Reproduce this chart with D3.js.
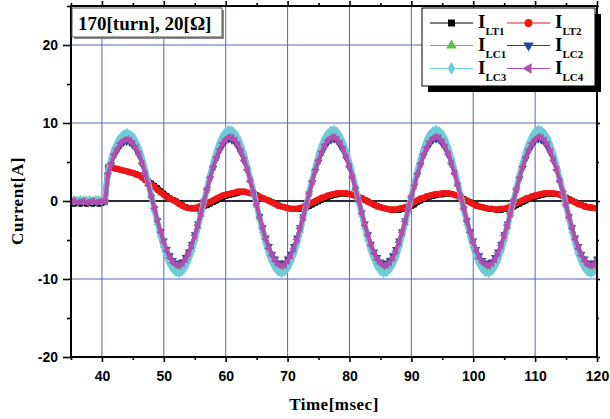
<!DOCTYPE html>
<html>
<head>
<meta charset="utf-8">
<script src="https://cdn.jsdelivr.net/npm/d3@7"></script>
<style>
  body { margin: 0; background: #ffffff; }
  svg { display: block; }
</style>
</head>
<body>
<div id="grafica_corriente"></div>
<script>
// sample times [msec]
var time = [35,35.5,36,36.5,37,37.5,38,38.5,39,39.5,40,40.5,
  41,41.5,42,42.5,43,43.5,44,44.5,45,45.5,46,46.5,47,47.5,48,48.5,49,49.5,50,50.5,
  51,51.5,52,52.5,53,53.5,54,54.5,55,55.5,56,56.5,57,57.5,58,58.5,59,59.5,60,60.5,
  61,61.5,62,62.5,63,63.5,64,64.5,65,65.5,66,66.5,67,67.5,68,68.5,69,69.5,70,70.5,
  71,71.5,72,72.5,73,73.5,74,74.5,75,75.5,76,76.5,77,77.5,78,78.5,79,79.5,80,80.5,
  81,81.5,82,82.5,83,83.5,84,84.5,85,85.5,86,86.5,87,87.5,88,88.5,89,89.5,90,90.5,
  91,91.5,92,92.5,93,93.5,94,94.5,95,95.5,96,96.5,97,97.5,98,98.5,99,99.5,100,100.5,
  101,101.5,102,102.5,103,103.5,104,104.5,105,105.5,106,106.5,107,107.5,108,108.5,109,109.5,110,110.5,
  111,111.5,112,112.5,113,113.5,114,114.5,115,115.5,116,116.5,117,117.5,118,118.5,119,119.5,120];

// currents [A]
var iLT1 = [-0.3,-0.4,-0.3,-0.4,-0.3,-0.4,-0.3,-0.4,-0.3,-0.4,-0.3,-0.2,
  4.2,4.3,4.2,4.1,4.0,3.9,3.8,3.7,3.6,3.5,
  3.3,3.1,2.9,2.6,2.3,2.0,1.7,1.3,1.0,0.7,
  0.4,0.2,0.0,-0.2,-0.5,-0.7,-0.9,-1.0,-1.0,-1.0,
  -0.9,-0.7,-0.6,-0.4,-0.2,0.0,0.2,0.4,0.6,0.7,
  0.8,0.9,1.0,1.1,1.1,1.1,1.0,0.9,0.8,0.6,
  0.4,0.2,0.1,-0.1,-0.3,-0.5,-0.7,-0.8,-0.9,-1.0,
  -1.1,-1.1,-1.1,-1.0,-0.9,-0.7,-0.5,-0.3,-0.1,0.1,
  0.3,0.4,0.6,0.7,0.8,0.9,0.9,0.9,0.9,0.8,
  0.7,0.5,0.4,0.2,0.0,-0.2,-0.4,-0.6,-0.8,-0.9,
  -1.0,-1.1,-1.2,-1.2,-1.2,-1.1,-1.0,-0.9,-0.7,-0.5,
  -0.2,0.0,0.2,0.3,0.5,0.6,0.7,0.8,0.8,0.9,
  0.9,0.9,0.8,0.7,0.5,0.3,0.1,-0.1,-0.3,-0.5,
  -0.7,-0.8,-0.9,-1.0,-1.1,-1.1,-1.2,-1.2,-1.1,-1.1,
  -1.0,-0.8,-0.6,-0.4,-0.2,0.0,0.2,0.3,0.5,0.6,
  0.7,0.8,0.9,0.9,0.9,0.9,0.8,0.7,0.5,0.3,
  0.1,-0.1,-0.3,-0.5,-0.6,-0.8,-0.9,-0.9,-1.0];

var iLT2 = [0.0,0.1,0.0,0.0,0.1,0.0,0.0,0.1,0.0,0.0,0.1,0.0,
  4.4,4.3,4.2,4.1,4.0,3.9,3.8,3.7,3.6,3.4,
  3.3,3.0,2.7,2.4,2.1,1.8,1.4,1.1,0.8,0.5,
  0.3,0.1,-0.1,-0.4,-0.6,-0.8,-0.9,-0.9,-0.9,-0.8,
  -0.6,-0.5,-0.3,-0.1,0.1,0.3,0.5,0.7,0.8,0.9,
  1.0,1.1,1.2,1.2,1.2,1.1,1.0,0.9,0.7,0.5,
  0.3,0.2,0.0,-0.2,-0.4,-0.6,-0.7,-0.8,-0.9,-1.0,
  -1.0,-1.0,-0.9,-0.8,-0.6,-0.4,-0.2,0.0,0.2,0.4,
  0.5,0.7,0.8,0.9,1.0,1.0,1.0,1.0,0.9,0.8,
  0.6,0.5,0.3,0.1,-0.1,-0.3,-0.5,-0.7,-0.8,-0.9,
  -1.0,-1.1,-1.1,-1.1,-1.0,-0.9,-0.8,-0.6,-0.4,-0.1,
  0.1,0.3,0.4,0.6,0.7,0.8,0.9,0.9,1.0,1.0,
  1.0,0.9,0.8,0.6,0.4,0.2,0.0,-0.2,-0.4,-0.6,
  -0.7,-0.8,-0.9,-1.0,-1.0,-1.1,-1.1,-1.0,-1.0,-0.9,
  -0.7,-0.5,-0.3,-0.1,0.1,0.3,0.4,0.6,0.7,0.8,
  0.9,1.0,1.0,1.0,1.0,0.9,0.8,0.6,0.4,0.2,
  0.0,-0.2,-0.4,-0.5,-0.7,-0.8,-0.8,-0.9,-0.9];

var iLC1 = [0.1,0.2,0.0,0.1,0.2,0.1,0.0,0.1,0.2,0.1,0.0,0.2,
  3.7,5.2,6.4,7.2,7.9,8.3,8.5,8.3,7.9,7.2,
  6.4,5.2,3.7,2.2,0.6,-1.1,-2.8,-4.3,-5.7,-6.9,
  -7.8,-8.5,-8.8,-8.9,-8.6,-8.1,-7.2,-6.1,-4.8,-3.3,
  -1.7,0.0,1.6,3.2,4.7,6.0,7.1,8.0,8.5,8.8,
  8.7,8.4,7.7,6.8,5.6,4.2,2.7,1.1,-0.6,-2.2,
  -3.8,-5.2,-6.5,-7.5,-8.3,-8.7,-8.9,-8.7,-8.3,-7.5,
  -6.5,-5.2,-3.8,-2.2,-0.6,1.1,2.7,4.2,5.6,6.8,
  7.7,8.4,8.7,8.8,8.5,8.0,7.1,6.0,4.7,3.2,
  1.6,0.0,-1.7,-3.3,-4.8,-6.1,-7.2,-8.1,-8.6,-8.9,
  -8.8,-8.5,-7.8,-6.9,-5.7,-4.3,-2.8,-1.1,0.6,2.2,
  3.7,5.2,6.4,7.4,8.2,8.6,8.8,8.6,8.2,7.4,
  6.4,5.2,3.7,2.2,0.6,-1.1,-2.8,-4.3,-5.7,-6.9,
  -7.8,-8.5,-8.8,-8.9,-8.6,-8.1,-7.2,-6.1,-4.8,-3.3,
  -1.7,0.0,1.6,3.2,4.7,6.0,7.1,8.0,8.5,8.8,
  8.7,8.4,7.7,6.8,5.6,4.2,2.7,1.1,-0.6,-2.2,
  -3.8,-5.2,-6.5,-7.5,-8.3,-8.7,-8.9,-8.7,-8.3];

var iLC2 = [0.0,0.1,-0.1,0.0,0.1,0.0,-0.1,0.0,0.1,0.0,-0.1,0.0,
  3.4,4.6,5.8,6.5,7.1,7.5,7.6,7.5,7.1,6.6,
  5.8,4.6,3.4,2.0,0.5,-1.0,-2.5,-3.9,-5.1,-6.2,
  -7.0,-7.6,-7.9,-8.0,-7.8,-7.2,-6.5,-5.5,-4.3,-2.9,
  -1.5,0.0,1.5,2.9,4.2,5.4,6.4,7.1,7.7,7.9,
  7.8,7.5,6.9,6.1,5.0,3.8,2.4,1.0,-0.5,-2.0,
  -3.4,-4.7,-5.8,-6.8,-7.4,-7.9,-8.0,-7.9,-7.4,-6.8,
  -5.8,-4.7,-3.4,-2.0,-0.5,1.0,2.4,3.8,5.0,6.1,
  6.9,7.5,7.8,7.9,7.7,7.1,6.4,5.4,4.2,2.9,
  1.5,0.0,-1.5,-2.9,-4.3,-5.5,-6.5,-7.2,-7.8,-8.0,
  -7.9,-7.6,-7.0,-6.2,-5.1,-3.9,-2.5,-1.0,0.5,2.0,
  3.4,4.6,5.8,6.7,7.3,7.8,7.9,7.8,7.3,6.7,
  5.8,4.6,3.4,2.0,0.5,-1.0,-2.5,-3.9,-5.1,-6.2,
  -7.0,-7.6,-7.9,-8.0,-7.8,-7.2,-6.5,-5.5,-4.3,-2.9,
  -1.5,0.0,1.5,2.9,4.2,5.4,6.4,7.1,7.7,7.9,
  7.8,7.5,6.9,6.1,5.0,3.8,2.4,1.0,-0.5,-2.0,
  -3.4,-4.7,-5.8,-6.8,-7.4,-7.9,-8.0,-7.9,-7.4];

var iLC3 = [0.1,0.0,0.1,0.2,0.0,0.1,0.2,0.0,0.1,0.2,0.0,0.1,
  3.9,5.4,6.7,7.5,8.2,8.6,8.8,8.6,8.3,7.6,
  6.7,5.4,3.9,2.3,0.6,-1.2,-2.9,-4.5,-5.9,-7.2,
  -8.1,-8.8,-9.2,-9.3,-9.0,-8.4,-7.5,-6.4,-5.0,-3.4,
  -1.7,0.0,1.7,3.4,4.9,6.3,7.4,8.3,8.9,9.2,
  9.1,8.7,8.1,7.1,5.9,4.4,2.8,1.2,-0.6,-2.3,
  -4.0,-5.5,-6.8,-7.8,-8.6,-9.1,-9.3,-9.1,-8.6,-7.8,
  -6.8,-5.5,-4.0,-2.3,-0.6,1.2,2.8,4.4,5.9,7.1,
  8.1,8.7,9.1,9.2,8.9,8.3,7.4,6.3,4.9,3.4,
  1.7,0.0,-1.7,-3.4,-5.0,-6.4,-7.5,-8.4,-9.0,-9.3,
  -9.2,-8.8,-8.1,-7.2,-5.9,-4.5,-2.9,-1.2,0.6,2.3,
  3.9,5.4,6.7,7.8,8.6,9.0,9.2,9.0,8.6,7.8,
  6.7,5.4,3.9,2.3,0.6,-1.2,-2.9,-4.5,-5.9,-7.2,
  -8.1,-8.8,-9.2,-9.3,-9.0,-8.4,-7.5,-6.4,-5.0,-3.4,
  -1.7,0.0,1.7,3.4,4.9,6.3,7.4,8.3,8.9,9.2,
  9.1,8.7,8.1,7.1,5.9,4.4,2.8,1.2,-0.6,-2.3,
  -4.0,-5.5,-6.8,-7.8,-8.6,-9.1,-9.3,-9.1,-8.6];

var iLC4 = [-0.1,0.0,-0.2,-0.1,0.0,-0.2,-0.1,0.0,-0.2,-0.1,0.0,-0.1,
  3.5,4.8,6.0,6.7,7.4,7.8,7.9,7.8,7.4,6.8,
  6.0,4.8,3.5,2.0,0.5,-1.0,-2.6,-4.0,-5.3,-6.4,
  -7.3,-7.9,-8.2,-8.3,-8.0,-7.5,-6.7,-5.7,-4.4,-3.1,
  -1.6,0.0,1.5,3.0,4.4,5.6,6.6,7.4,7.9,8.2,
  8.1,7.8,7.2,6.3,5.2,4.0,2.5,1.0,-0.5,-2.1,
  -3.5,-4.9,-6.1,-7.0,-7.7,-8.2,-8.3,-8.2,-7.7,-7.0,
  -6.1,-4.9,-3.5,-2.1,-0.5,1.0,2.5,4.0,5.2,6.3,
  7.2,7.8,8.1,8.2,7.9,7.4,6.6,5.6,4.4,3.0,
  1.5,0.0,-1.6,-3.1,-4.4,-5.7,-6.7,-7.5,-8.0,-8.3,
  -8.2,-7.9,-7.3,-6.4,-5.3,-4.0,-2.6,-1.0,0.5,2.0,
  3.5,4.8,6.0,6.9,7.6,8.1,8.2,8.1,7.6,6.9,
  6.0,4.8,3.5,2.0,0.5,-1.0,-2.6,-4.0,-5.3,-6.4,
  -7.3,-7.9,-8.2,-8.3,-8.0,-7.5,-6.7,-5.7,-4.4,-3.1,
  -1.6,0.0,1.5,3.0,4.4,5.6,6.6,7.4,7.9,8.2,
  8.1,7.8,7.2,6.3,5.2,4.0,2.5,1.0,-0.5,-2.1,
  -3.5,-4.9,-6.1,-7.0,-7.7,-8.2,-8.3,-8.2,-7.7];

// axis ticks
var xMajor = [40, 50, 60, 70, 80, 90, 100, 110, 120],
    xMinor = [35, 45, 55, 65, 75, 85, 95, 105, 115],
    yMajor = [-20, -10, 0, 10, 20],
    yMinor = [-15, -5, 5, 15, 25];

var seriesNames = ["LT1", "LT2", "LC1", "LC2", "LC3", "LC4"];
var seriesValues = [iLT1, iLT2, iLC1, iLC2, iLC3, iLC4];

// styles per series (ancho = width of the dense trace band)
var estilos = [
  {color: "#000000", symbol: d3.symbolSquare,   rot: 0,   size: 24, ancho: 5},
  {color: "#f01515", symbol: d3.symbolCircle,   rot: 0,   size: 34, ancho: 5.5},
  {color: "#62c046", symbol: d3.symbolTriangle, rot: 0,   size: 26, ancho: 3},
  {color: "#27409a", symbol: d3.symbolTriangle, rot: 180, size: 26, ancho: 3},
  {color: "#6ccdd8", symbol: d3.symbolDiamond,  rot: 0,   size: 26, ancho: 6},
  {color: "#b04fb0", symbol: d3.symbolTriangle, rot: -90, size: 28, ancho: 4}
];

var w = 610,
    h = 419;
var margin = {top: 6, right: 13, bottom: 62, left: 71};
var pw = w - margin.left - margin.right,
    ph = h - margin.top - margin.bottom;

var svg = d3.select("#grafica_corriente")
    .append("svg")
    .attr("width", w)
    .attr("height", h);

svg.append("rect").attr("width", w).attr("height", h).attr("fill", "#ffffff");

var g = svg.append("g")
    .attr("transform", "translate(" + margin.left + "," + margin.top + ")");

var x = d3.scaleLinear().domain([35, 120]).range([0, pw]);
var y = d3.scaleLinear().domain([-20, 25]).range([ph, 0]);

// grid
g.selectAll(".gridx")
    .data(xMajor.slice(0, -1))
    .enter().append("line")
    .attr("x1", function(d) { return x(d); })
    .attr("x2", function(d) { return x(d); })
    .attr("y1", 0).attr("y2", ph)
    .attr("stroke", "#5068b8").attr("stroke-width", 1);

g.selectAll(".gridy")
    .data(yMajor.slice(1))
    .enter().append("line")
    .attr("y1", function(d) { return y(d); })
    .attr("y2", function(d) { return y(d); })
    .attr("x1", 0).attr("x2", pw)
    .attr("stroke", "#5068b8").attr("stroke-width", 1);

// zero line
g.append("line")
    .attr("x1", 0).attr("x2", pw)
    .attr("y1", y(0)).attr("y2", y(0))
    .attr("stroke", "#000000").attr("stroke-width", 1.6);

g.append("clipPath").attr("id", "clip")
    .append("rect").attr("width", pw).attr("height", ph);

var datos = g.append("g").attr("clip-path", "url(#clip)");

var linea = d3.line()
    .x(function(d, i) { return x(time[i]); })
    .y(function(d) { return y(d); });

seriesValues.forEach(function(vals, s) {
  var st = estilos[s];
  var capa = datos.append("g");
  capa.append("path")
      .datum(vals)
      .attr("fill", "none")
      .attr("stroke", st.color)
      .attr("stroke-width", st.ancho)
      .attr("stroke-linejoin", "round")
      .attr("stroke-linecap", "round")
      .attr("d", linea);
  capa.selectAll("path.pt")
      .data(vals)
      .enter().append("path")
      .attr("class", "pt")
      .attr("d", d3.symbol().type(st.symbol).size(st.size))
      .attr("transform", function(d, i) {
        return "translate(" + x(time[i]) + "," + y(d) + ") rotate(" + st.rot + ")";
      })
      .attr("fill", st.color);
});

// frame
g.append("rect")
    .attr("width", pw).attr("height", ph)
    .attr("fill", "none")
    .attr("stroke", "#000000")
    .attr("stroke-width", 2);

// axes
function estiloEje(sel) {
  sel.select(".domain").remove();
  sel.selectAll("line").attr("stroke", "#000000").attr("stroke-width", 1.6);
  sel.selectAll("text")
     .attr("fill", "#000000")
     .style("font-family", "'Liberation Sans', Arial, sans-serif")
     .style("font-weight", "bold")
     .style("font-size", "14px");
}

var fmt = function(d) { return String(d); };

g.append("g").attr("transform", "translate(0," + ph + ")")
    .call(d3.axisBottom(x).tickValues(xMajor).tickSize(5).tickPadding(9).tickFormat(fmt))
    .call(estiloEje);
g.append("g").attr("transform", "translate(0," + ph + ")")
    .call(d3.axisBottom(x).tickValues(xMinor).tickSize(3).tickFormat(""))
    .call(estiloEje);
g.append("g")
    .call(d3.axisTop(x).tickValues(xMajor).tickSize(5).tickFormat(""))
    .call(estiloEje);
g.append("g")
    .call(d3.axisTop(x).tickValues(xMinor).tickSize(3).tickFormat(""))
    .call(estiloEje);

g.append("g")
    .call(d3.axisLeft(y).tickValues(yMajor).tickSize(8).tickPadding(5).tickFormat(fmt))
    .call(estiloEje);
g.append("g")
    .call(d3.axisLeft(y).tickValues(yMinor).tickSize(4).tickFormat(""))
    .call(estiloEje);
g.append("g").attr("transform", "translate(" + pw + ",0)")
    .call(d3.axisRight(y).tickValues(yMajor).tickSize(3).tickFormat(""))
    .call(estiloEje);
g.append("g").attr("transform", "translate(" + pw + ",0)")
    .call(d3.axisRight(y).tickValues(yMinor).tickSize(2).tickFormat(""))
    .call(estiloEje);

// axis titles
var serif = "'Liberation Serif', 'Times New Roman', serif";
svg.append("text")
    .attr("x", margin.left + pw / 2)
    .attr("y", 410)
    .attr("text-anchor", "middle")
    .style("font-family", serif).style("font-weight", "bold").style("font-size", "17px")
    .style("letter-spacing", "0.5px")
    .text("Time[msec]");

svg.append("text")
    .attr("transform", "translate(23," + (margin.top + y(0)) + ") rotate(-90)")
    .attr("text-anchor", "middle")
    .style("font-family", serif).style("font-weight", "bold").style("font-size", "17px")
    .style("letter-spacing", "0.5px")
    .text("Current[A]");

// title box
svg.append("rect").attr("x", 74).attr("y", 10).attr("width", 150).attr("height", 29).attr("fill", "#8a8a8a");
svg.append("rect").attr("x", 72).attr("y", 8).attr("width", 150).attr("height", 29)
    .attr("fill", "#ffffff").attr("stroke", "#555555").attr("stroke-width", 1);
svg.append("text")
    .attr("x", 78).attr("y", 30)
    .style("font-family", serif).style("font-weight", "bold").style("font-size", "19px")
    .text("170[turn], 20[\u03A9]");

// legend
var ley = svg.append("g");
ley.append("rect").attr("x", 428).attr("y", 14).attr("width", 173).attr("height", 78).attr("fill", "#000000");
ley.append("rect").attr("x", 422).attr("y", 8).attr("width", 173).attr("height", 78)
    .attr("fill", "#ffffff").attr("stroke", "#000000").attr("stroke-width", 1);

var colX = [430, 507],
    rowY = [23, 45.5, 68.5];

seriesNames.forEach(function(nombre, s) {
  var st = estilos[s];
  var cx = colX[s % 2],
      cy = rowY[Math.floor(s / 2)];
  ley.append("line")
      .attr("x1", cx).attr("x2", cx + 43)
      .attr("y1", cy).attr("y2", cy)
      .attr("stroke", st.color).attr("stroke-width", 1.2);
  ley.append("path")
      .attr("d", d3.symbol().type(st.symbol).size(48))
      .attr("transform", "translate(" + (cx + 21.5) + "," + cy + ") rotate(" + st.rot + ")")
      .attr("fill", st.color);
  var t = ley.append("text")
      .attr("x", cx + 48).attr("y", cy + 5)
      .style("font-family", serif).style("font-weight", "bold").style("font-size", "19px");
  t.append("tspan").text("I");
  t.append("tspan").attr("dy", 7).style("font-size", "11px").text(nombre);
});
</script>
</body>
</html>
